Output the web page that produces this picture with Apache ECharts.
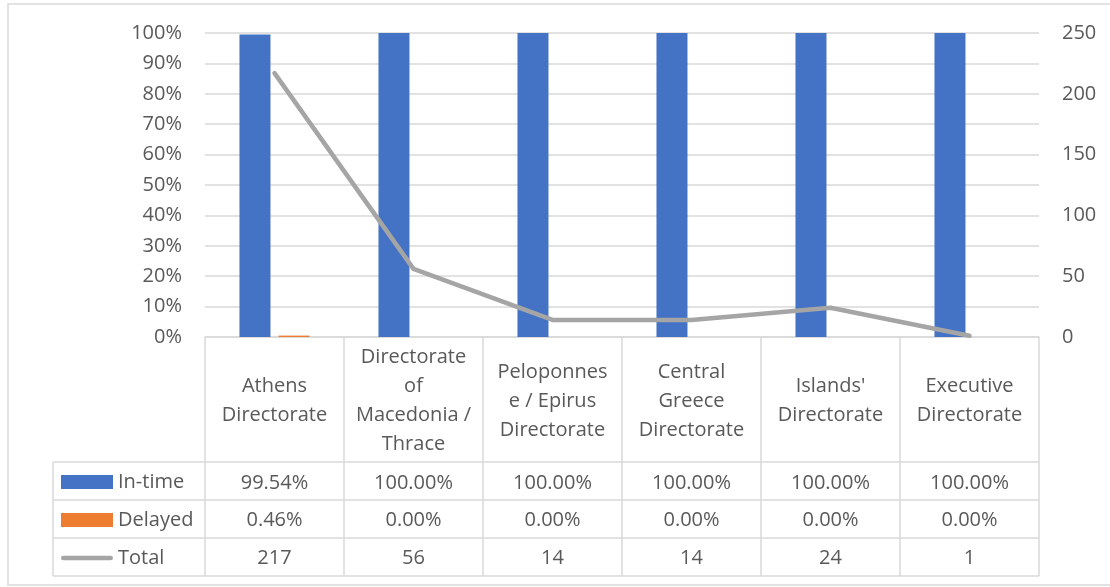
<!DOCTYPE html>
<html>
<head>
<meta charset="utf-8">
<script src="https://cdn.jsdelivr.net/npm/echarts@6/dist/echarts.min.js"></script>
<style>
  html, body { margin: 0; padding: 0; background: #fff; }
  #chart { width: 1110px; height: 587px; }
</style>
</head>
<body>
<div id="chart"></div>
<script>
// Directorates (line breaks as they wrap inside the table header cells)
const categories = [
  'Athens\nDirectorate',
  'Directorate\nof\nMacedonia /\nThrace',
  'Peloponnes\ne / Epirus\nDirectorate',
  'Central\nGreece\nDirectorate',
  "Islands'\nDirectorate",
  'Executive\nDirectorate'
];
const inTime = [99.54, 100.00, 100.00, 100.00, 100.00, 100.00];
const delayed = [0.46, 0.00, 0.00, 0.00, 0.00, 0.00];
const total = [217, 56, 14, 14, 24, 1];
const seriesNames = ['In-time', 'Delayed', 'Total'];
const pctTicks = { min: 0, max: 100, interval: 10 };
const countTicks = { min: 0, max: 250, interval: 50 };

const TEXT = '#595959';
const GRID = '#d9d9d9';
const FONT = 'Open Sans';
const FS = 20;

const chart = echarts.init(document.getElementById('chart'), null, { renderer: 'canvas' });

// extra category axes that print the data-table rows under each column
function tableRow(values, fmt, offset) {
  return {
    type: 'category',
    data: categories,
    position: 'bottom',
    offset: offset,
    axisLine: { show: false },
    axisTick: { show: false },
    splitLine: { show: false },
    axisLabel: {
      interval: 0,
      margin: 0,
      verticalAlign: 'middle',
      color: TEXT,
      fontFamily: FONT,
      fontSize: FS,
      formatter: (v, i) => fmt(values[i])
    }
  };
}

const pct = v => v.toFixed(2) + '%';
const cnt = v => String(v);

const option = {
  animation: false,
  textStyle: { fontFamily: FONT },
  grid: { left: 205, right: 71, top: 33, bottom: 250, containLabel: false },
  legend: {
    orient: 'vertical',
    left: 56,
    top: 467,
    itemWidth: 52,
    itemHeight: 14,
    itemGap: 18,
    textStyle: { color: TEXT, fontSize: FS, fontFamily: FONT },
    data: [
      { name: seriesNames[0], icon: 'rect' },
      { name: seriesNames[1], icon: 'rect' },
      { name: seriesNames[2], icon: 'path://M2.5,0H52.5A2.5,2.5 0 0 1 52.5,5H2.5A2.5,2.5 0 0 1 2.5,0Z' }
    ]
  },
  xAxis: [
    {
      type: 'category',
      data: categories,
      axisLine: { show: true, lineStyle: { color: GRID, width: 1.5 } },
      axisTick: { show: true, interval: 0, length: 239, lineStyle: { color: GRID, width: 1.5 } },
      axisLabel: {
        interval: 0,
        margin: 64,
        verticalAlign: 'middle',
        lineHeight: 29,
        color: TEXT,
        fontFamily: FONT,
        fontSize: FS
      }
    },
    tableRow(inTime, pct, 146),
    tableRow(delayed, pct, 183),
    tableRow(total, cnt, 221)
  ],
  yAxis: [
    {
      type: 'value',
      min: pctTicks.min, max: pctTicks.max, interval: pctTicks.interval,
      axisLine: { show: false },
      axisTick: { show: false },
      splitLine: { lineStyle: { color: GRID, width: 1.5 } },
      axisLabel: { formatter: '{value}%', margin: 23, color: TEXT, fontSize: FS, fontFamily: FONT }
    },
    {
      type: 'value',
      min: countTicks.min, max: countTicks.max, interval: countTicks.interval,
      axisLine: { show: false },
      axisTick: { show: false },
      splitLine: { show: false },
      axisLabel: { margin: 23, color: TEXT, fontSize: FS, fontFamily: FONT }
    }
  ],
  series: [
    {
      name: seriesNames[0],
      type: 'bar',
      data: inTime,
      barWidth: 31,
      barGap: '26%',
      itemStyle: { color: '#4472C4' }
    },
    {
      name: seriesNames[1],
      type: 'bar',
      data: delayed,
      barWidth: 31,
      barGap: '26%',
      itemStyle: { color: '#ED7D31' }
    },
    {
      name: seriesNames[2],
      type: 'line',
      yAxisIndex: 1,
      data: total,
      symbol: 'none',
      lineStyle: { color: '#A5A5A5', width: 4.5, cap: 'round', join: 'round' },
      itemStyle: { color: '#A5A5A5' }
    }
  ],
  graphic: [
    // chart frame
    { type: 'rect', shape: { x: 8, y: 4, width: 1110, height: 581 }, style: { fill: 'none', stroke: GRID, lineWidth: 1.5 }, silent: true },
    // data-table rules
    { type: 'line', shape: { x1: 53, y1: 462, x2: 1039, y2: 462 }, style: { stroke: GRID, lineWidth: 1.5 } },
    { type: 'line', shape: { x1: 53, y1: 500, x2: 1039, y2: 500 }, style: { stroke: GRID, lineWidth: 1.5 } },
    { type: 'line', shape: { x1: 53, y1: 538, x2: 1039, y2: 538 }, style: { stroke: GRID, lineWidth: 1.5 } },
    { type: 'line', shape: { x1: 53, y1: 576, x2: 1039, y2: 576 }, style: { stroke: GRID, lineWidth: 1.5 } },
    { type: 'line', shape: { x1: 53, y1: 462, x2: 53, y2: 576 }, style: { stroke: GRID, lineWidth: 1.5 } }
  ]
};

chart.setOption(option);
</script>
</body>
</html>
